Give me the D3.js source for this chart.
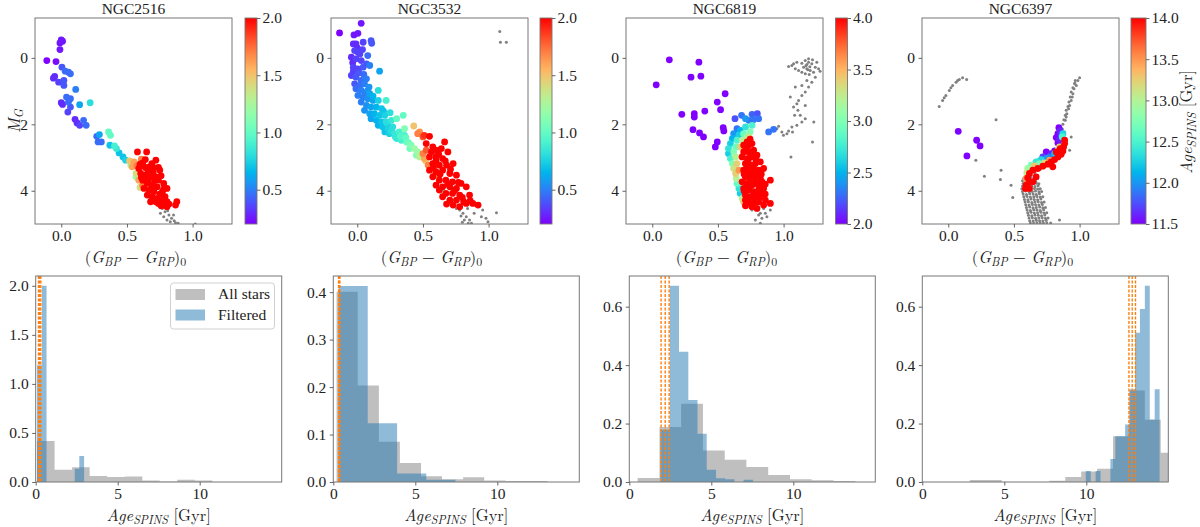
<!DOCTYPE html>
<html>
<head>
<meta charset="utf-8">
<script src="https://cdn.jsdelivr.net/npm/d3@7"></script>
<style>
body { margin: 0; background: #fff; }
svg { display: block; }
</style>
</head>
<body>
<div id="chart"></div>
<script>
// ---- data ----
const clusters = ["NGC2516", "NGC3532", "NGC6819", "NGC6397"];

// colour-bar limits (Gyr) and ticks
const ageRanges = [[0.2, 2.0], [0.2, 2.0], [2.0, 4.0], [11.5, 14.0]];
const cbTicks = [[0.5, 1.0, 1.5, 2.0], [0.5, 1.0, 1.5, 2.0], [2.0, 2.5, 3.0, 3.5, 4.0], [11.5, 12.0, 12.5, 13.0, 13.5, 14.0]];
const colorTicks = [0.0, 0.5, 1.0];
const magTicks = [0, 2, 4];

// filtered stars: [BP-RP, M_G, age]
const ngc2516Filtered = [
  [0.00,-0.54,0.25],[0.01,-0.50,0.25],[-0.01,-0.45,0.25],[-0.01,-0.25,0.25],
  [-0.11,0.08,0.2],[-0.04,0.11,0.22],[-0.05,0.56,0.3],[-0.06,0.61,0.3],
  [0.005,0.28,0.4],[0.03,0.40,0.45],[0.055,0.43,0.45],[0.07,0.48,0.45],
  [-0.02,0.73,0.35],[0.02,0.68,0.4],[0.02,0.83,0.4],[0.11,0.95,0.5],
  [0.04,1.18,0.45],[0.07,1.23,0.45],[0.055,1.33,0.45],[0.00,1.35,0.3],[0.01,1.40,0.3],
  [0.07,1.48,0.4],[0.05,1.63,0.35],[0.14,1.41,0.6],[0.22,1.35,0.8],
  [0.105,1.85,0.3],[0.12,1.96,0.3],[0.14,2.03,0.35],[0.17,1.88,0.45],[0.19,2.03,0.45],
  [0.27,2.36,0.45],[0.29,2.31,0.6],[0.28,2.53,0.45],[0.305,2.53,0.45],
  [0.36,2.23,1.0],[0.375,2.33,1.0],[0.37,2.63,0.7],[0.405,2.65,0.9],[0.42,2.73,0.85],
  [0.44,2.86,0.7],[0.47,2.98,0.7],[0.49,3.08,0.75],[0.52,3.10,1.5],[0.53,3.23,1.2],
  [0.555,3.13,1.6],[0.58,2.83,2.2],[0.54,3.28,1.6],[0.57,3.48,1.4],[0.57,3.58,1.2],
  [0.59,3.68,1.6],[0.62,3.83,1.7],[0.60,3.90,1.4],[0.61,3.05,1.7],[0.575,3.25,1.7],
  [0.62,3.16,2.3],[0.64,3.06,2.3],[0.65,2.83,2.4],[0.67,3.28,2.3],[0.69,3.18,2.5],
  [0.72,3.08,2.4],[0.74,3.30,2.3],[0.75,3.38,2.6],[0.59,3.33,2.1],[0.605,3.48,2.2],
  [0.64,3.53,2.4],[0.68,3.58,2.5],[0.72,3.58,2.4],[0.74,3.68,2.6],[0.78,3.78,2.7],
  [0.62,3.68,2.2],[0.655,3.78,2.4],[0.69,3.83,2.5],[0.73,3.88,2.6],[0.63,3.93,2.2],
  [0.67,3.98,2.4],[0.705,4.03,2.6],[0.77,4.03,2.7],[0.805,3.93,2.8],[0.655,4.13,2.3],
  [0.69,4.18,2.5],[0.73,4.23,2.6],[0.77,4.28,2.7],[0.79,4.18,2.8],[0.74,4.38,2.6],
  [0.78,4.43,2.7],[0.805,4.33,2.8],[0.72,4.33,2.5],[0.88,4.33,3.0],[0.87,4.43,3.0],
  [0.805,4.48,2.8],[0.68,4.33,2.4],[0.70,3.45,2.4],[0.66,3.40,2.3],[0.61,3.60,2.1],
  [0.75,4.10,2.6],[0.76,3.55,2.6],[0.71,3.70,2.5],[0.60,3.20,2.1],
  [0.66,3.70,2.4],[0.70,3.95,2.5],[0.76,4.45,2.7],[0.82,4.40,2.8],[0.64,3.30,2.3],
  [0.70,3.30,2.4],[0.78,3.95,2.7]
];
const ngc3532Filtered = [
  [-0.135,-0.75,0.2],[0.03,-1.04,0.25],[-0.025,-0.69,0.25],[0.005,-0.74,0.25],[-0.03,-0.42,0.3],
  [-0.01,-0.42,0.3],[0.045,-0.47,0.35],[0.105,-0.52,0.4],[0.11,-0.44,0.4],
  [-0.02,-0.22,0.35],[0.005,-0.17,0.35],[0.02,-0.12,0.35],[-0.045,-0.02,0.3],[-0.01,0.03,0.35],
  [0.03,0.08,0.35],[0.08,-0.07,0.45],[0.07,0.18,0.4],[0.00,-0.30,0.3],[0.04,-0.25,0.35],
  [-0.03,0.28,0.35],[0.005,0.33,0.35],[0.045,0.28,0.4],[0.095,0.23,0.5],[0.17,0.40,0.6],
  [-0.035,0.15,0.3],[0.015,0.45,0.4],[0.05,0.50,0.45],[-0.03,0.40,0.35],
  [-0.045,0.53,0.35],[-0.01,0.58,0.4],[0.03,0.68,0.45],[0.07,0.63,0.5],[-0.02,0.78,0.4],
  [0.02,0.83,0.45],[0.055,0.78,0.5],[0.09,0.88,0.55],[0.12,1.15,0.65],[0.06,1.05,0.5],
  [-0.01,0.93,0.45],[0.03,0.98,0.5],[0.08,0.98,0.55],[0.095,1.08,0.6],[0.16,0.98,0.8],
  [0.005,1.13,0.5],[0.045,1.18,0.5],[0.08,1.23,0.55],[0.12,1.28,0.6],[0.16,1.28,0.75],
  [0.03,1.33,0.5],[0.07,1.43,0.55],[0.105,1.48,0.6],[0.145,1.48,0.65],[0.185,1.53,0.7],[0.22,1.28,0.9],
  [0.055,1.58,0.55],[0.095,1.68,0.6],[0.13,1.68,0.65],[0.17,1.73,0.7],[0.21,1.73,0.75],
  [0.20,1.60,0.7],[0.25,1.65,0.8],
  [0.105,1.83,0.6],[0.145,1.88,0.65],[0.185,1.93,0.7],[0.22,1.93,0.8],[0.26,1.88,0.85],
  [0.30,1.83,1.0],[0.35,1.73,1.0],[0.23,2.00,0.75],[0.26,2.20,0.8],
  [0.16,2.03,0.65],[0.195,2.08,0.7],[0.235,2.13,0.75],[0.27,2.08,0.8],
  [0.21,2.23,0.7],[0.245,2.28,0.75],[0.285,2.28,0.85],[0.32,2.23,0.9],[0.36,2.33,0.9],
  [0.36,2.13,1.1],[0.43,2.05,1.5],[0.29,2.38,0.85],[0.33,2.36,0.95],[0.37,2.40,1.0],[0.39,2.55,1.05],
  [0.30,2.43,0.85],[0.335,2.48,0.9],[0.375,2.53,1.0],[0.41,2.63,1.1],[0.435,2.73,1.2],
  [0.40,2.73,1.05],[0.46,2.83,1.2],[0.45,2.93,1.1],[0.475,2.98,1.3],
  [0.46,2.28,1.7],[0.475,2.23,1.65],[0.50,2.38,1.8],[0.51,2.33,1.9],[0.55,2.36,2.2],[0.665,2.53,2.3],
  [0.525,2.78,1.8],[0.50,2.88,1.7],[0.51,3.03,1.6],[0.54,3.23,1.7],[0.59,3.53,1.7],[0.64,3.98,1.0],
  [0.52,3.10,1.5],
  [0.525,2.58,2.2],[0.575,2.68,2.3],[0.60,2.78,2.4],[0.64,2.73,2.4],[0.565,2.83,2.2],
  [0.55,2.98,2.2],[0.60,2.98,2.3],[0.65,3.03,2.4],[0.69,2.83,2.5],[0.575,3.18,2.2],
  [0.625,3.23,2.3],[0.68,3.23,2.4],[0.73,3.18,2.6],[0.55,3.38,2.1],[0.60,3.43,2.3],
  [0.65,3.38,2.4],[0.705,3.48,2.5],[0.755,3.53,2.6],[0.575,3.58,2.2],[0.625,3.68,2.3],
  [0.675,3.68,2.4],[0.725,3.73,2.5],[0.79,3.78,2.7],[0.60,3.83,2.2],[0.65,3.88,2.4],
  [0.705,3.88,2.5],[0.755,3.93,2.6],[0.83,3.88,2.8],[0.625,3.98,2.3],[0.675,4.08,2.4],
  [0.725,4.08,2.5],[0.78,4.13,2.7],[0.855,4.13,2.9],[0.65,4.18,2.3],[0.705,4.28,2.5],
  [0.755,4.28,2.6],[0.81,4.33,2.8],[0.88,4.38,3.0],[0.92,4.43,3.1],[0.73,4.43,2.6],
  [0.78,4.48,2.7],[0.83,4.38,2.8],
  [0.62,2.90,2.3],[0.67,3.10,2.4],[0.71,3.35,2.5],[0.63,3.50,2.3],[0.69,3.80,2.4],
  [0.74,4.00,2.6],[0.77,3.75,2.7],[0.80,4.20,2.8],[0.68,4.40,2.5],[0.86,4.30,2.9],
  [0.60,3.10,2.2],[0.58,3.30,2.2]
];
const ngc6819Filtered = [
  [0.13,0.06,2.0],[0.355,0.13,2.0],[0.03,0.81,2.0],[0.295,0.58,2.0],[0.37,0.55,2.0],
  [0.555,1.08,2.0],[0.495,1.33,2.0],[0.52,1.56,2.0],[0.40,1.60,2.0],[0.225,1.70,2.0],
  [0.32,1.68,2.0],[0.32,1.78,2.0],[0.54,2.10,2.0],[0.545,2.20,2.0],[0.31,2.16,2.0],
  [0.36,2.26,2.0],[0.39,2.38,2.0],[0.495,2.53,2.0],[0.48,2.68,2.0],
  [0.886,2.23,2.3],[0.924,2.15,2.3],
  [0.63,1.83,2.2],[0.68,1.73,2.3],[0.76,1.70,2.25],[0.80,1.68,2.2],[0.81,1.83,2.3],
  [0.735,1.88,2.3],[0.77,1.86,2.3],[0.71,1.83,2.4],
  [0.645,2.13,2.3],[0.62,2.28,2.4],[0.61,2.43,2.5],[0.595,2.58,2.6],[0.58,2.73,2.7],
  [0.58,2.88,2.6],[0.595,3.03,2.8],[0.61,3.18,3.0],[0.62,3.33,3.3],[0.635,3.48,3.4],
  [0.64,3.63,3.2],[0.645,3.78,2.9],[0.66,3.93,2.7],[0.67,4.08,2.6],[0.685,4.23,3.2],
  [0.695,4.33,3.4],[0.71,4.43,3.6],
  [0.67,2.18,2.5],[0.66,2.33,2.6],[0.645,2.48,2.8],[0.635,2.68,2.9],[0.62,2.83,3.0],
  [0.635,2.98,3.2],[0.645,3.18,3.4],[0.66,3.38,3.6],
  [0.71,2.08,2.7],[0.695,2.28,2.9],[0.72,2.38,3.1],[0.685,2.48,3.2],[0.67,2.68,3.4],
  [0.71,2.68,3.6],[0.76,2.03,2.8],[0.745,2.23,3.0],[0.735,2.38,3.3],
  [0.696,2.63,4.2],[0.722,2.53,4.3],[0.759,2.58,4.4],[0.696,2.83,4.3],[0.734,2.83,4.5],
  [0.772,2.78,4.5],[0.684,2.98,4.2],[0.722,3.03,4.4],[0.759,2.98,4.6],[0.797,2.93,4.7],
  [0.709,3.18,4.4],[0.747,3.23,4.5],[0.785,3.18,4.6],[0.823,3.13,4.8],[0.696,3.38,4.3],
  [0.734,3.43,4.5],[0.772,3.43,4.6],[0.81,3.38,4.7],[0.848,3.33,4.9],[0.709,3.58,4.4],
  [0.747,3.63,4.5],[0.785,3.58,4.6],[0.823,3.63,4.8],[0.684,3.73,4.2],[0.722,3.78,4.4],
  [0.759,3.83,4.5],[0.797,3.78,4.7],[0.835,3.73,4.8],[0.899,3.68,5.0],[0.696,3.93,4.3],
  [0.734,3.98,4.5],[0.772,4.03,4.6],[0.81,3.98,4.7],[0.848,3.93,4.9],[0.709,4.13,4.4],
  [0.747,4.18,4.5],[0.785,4.23,4.6],[0.823,4.18,4.8],[0.734,4.33,4.5],[0.772,4.38,4.6],
  [0.81,4.33,4.7],[0.861,4.28,4.9],[0.899,4.38,5.0],[0.848,4.43,4.9],[0.759,4.48,4.6],
  [0.797,4.53,4.7],[0.709,4.28,4.4],
  [0.715,2.75,4.3],[0.75,2.90,4.5],[0.79,3.05,4.6],[0.73,3.10,4.4],[0.77,3.30,4.5],
  [0.72,3.30,4.4],[0.83,3.50,4.8],[0.79,3.50,4.6],[0.75,3.50,4.5],[0.70,3.50,4.3],
  [0.77,3.70,4.5],[0.81,3.85,4.7],[0.74,3.90,4.4],[0.70,4.00,4.3],[0.79,4.10,4.6],
  [0.755,4.25,4.5],[0.83,4.05,4.8],[0.86,3.80,4.9],[0.86,4.10,4.9],[0.71,4.45,4.4],
  [0.73,2.65,4.3],[0.745,2.45,4.2]
];
const ngc6397Filtered = [
  [0.076,2.21,11.5],[0.216,2.48,11.5],[0.242,2.65,11.5],[0.142,2.95,11.5],
  [0.842,2.10,11.5],[0.852,2.20,11.6],[0.835,2.28,11.5],[0.86,2.33,11.7],[0.822,2.40,11.5],
  [0.847,2.46,11.6],[0.835,2.56,11.5],[0.873,2.28,12.3],[0.868,2.38,12.5],
  [0.746,2.83,11.5],[0.784,2.88,11.6],[0.81,2.80,11.5],[0.72,2.98,11.7],[0.644,3.23,11.9],
  [0.682,3.13,12.0],[0.707,3.06,12.3],[0.746,3.03,12.0],[0.669,3.13,12.4],[0.631,3.23,12.7],
  [0.605,3.33,12.9],[0.598,3.46,13.1],[0.593,3.63,13.5],[0.771,2.98,11.9],[0.81,2.88,12.2],
  [0.835,2.78,12.8],[0.847,2.68,13.2],[0.695,3.18,12.7],[0.733,3.16,13.2],[0.656,3.25,13.3],
  [0.771,3.08,13.5],
  [0.886,2.48,14.2],[0.886,2.58,14.2],[0.878,2.68,14.3],[0.873,2.80,14.2],[0.86,2.90,14.3],
  [0.835,2.98,14.1],[0.81,3.06,14.2],[0.784,3.13,14.3],[0.796,3.28,14.4],[0.758,3.20,14.2],
  [0.72,3.26,14.1],[0.682,3.33,14.2],[0.644,3.38,14.1],[0.618,3.48,14.2],[0.605,3.61,14.3],
  [0.618,3.73,14.2],[0.593,3.83,14.4],[0.588,3.93,14.3],[0.618,3.93,14.2],[0.644,3.73,14.1],
  [0.669,3.58,14.2],[0.822,2.83,14.1],[0.852,2.73,14.2]
];

// remaining stars (grey): [BP-RP, M_G]
const ngc2516Other = [
  [0.77,4.53],[0.79,4.63],[0.82,4.73],[0.84,4.83],[0.83,4.93],[0.87,4.96],[0.805,4.88],
  [0.855,4.73],[0.89,4.98],[1.02,5.0],[0.755,4.68],[0.78,4.78],[0.81,4.60],[0.86,4.90]
];
const ngc3532Other = [
  [1.085,-0.79],[1.09,-0.47],[1.135,-0.47],
  [0.78,4.58],[0.805,4.68],[0.83,4.78],[0.855,4.88],[0.87,4.98],[0.815,4.88],[0.89,4.68],
  [0.945,4.78],[0.98,4.83],[0.995,4.93],[1.06,4.66],[0.955,4.58],[0.84,4.53],[0.79,4.76],
  [0.755,4.53],[0.80,4.95],[0.845,4.98]
];
const ngc6819Other = [
  [1.076,0.18],[1.101,0.13],[1.139,0.16],[1.165,0.08],[1.177,0.20],[1.19,0.13],[1.215,0.18],
  [1.241,0.28],[1.266,0.33],[1.152,0.28],[1.177,0.33],[1.203,0.38],[1.228,0.43],[1.089,0.33],
  [1.063,0.23],[1.114,0.38],[1.139,0.43],[1.165,0.48],[1.195,0.50],[1.253,0.13],[1.278,0.40],
  [1.038,0.26],[1.19,0.03],[1.22,0.06],[1.17,0.24],[1.20,0.27],[1.185,0.36],
  [1.241,0.58],[1.215,0.73],[1.19,0.88],[1.165,1.03],[1.139,1.13],[1.114,1.28],[1.101,1.38],
  [1.076,1.48],[1.051,1.18],[1.089,0.88],[1.139,0.83],[1.177,0.68],[1.109,1.58],[1.127,1.73],
  [1.084,1.73],[1.165,1.83],[1.139,1.93],[1.101,2.03],[1.063,2.08],[1.038,2.20],[1.025,2.28],
  [0.999,2.33],[0.962,2.06],[0.987,2.23],[0.949,2.13],[1.068,2.23],[1.23,1.93],[1.22,2.53],
  [1.056,2.98],[1.165,1.43],
  [0.797,4.58],[0.823,4.68],[0.835,4.83],[0.81,4.73],[0.848,4.53],[0.861,4.68],[0.873,4.78],
  [0.785,4.88],[0.823,4.98],[0.899,4.58],[0.759,4.58]
];
const ngc6397Other = [
  [-0.069,1.46],[-0.043,1.28],[-0.018,1.13],[0.008,0.98],[0.033,0.83],[0.059,0.73],[0.084,0.65],
  [0.109,0.60],[0.14,0.65],[-0.031,1.20],[0.02,0.90],[0.071,0.68],
  [0.364,1.86],[0.21,3.08],[0.275,3.56],[0.402,3.38],[0.397,3.66],[0.478,3.83],[0.491,4.20],
  [0.847,4.88],[0.936,2.38],[0.924,2.78],
  [1.0,0.60],[0.987,0.68],[0.962,0.78],[0.949,0.90],[0.936,1.03],[0.929,1.18],[0.919,1.33],
  [0.911,1.46],[0.898,1.58],[0.891,1.73],[0.88,1.86],[0.873,2.00],[0.868,2.13],[0.957,0.93],
  [0.944,1.18],[0.924,1.43],[0.903,1.68],[0.891,1.88],[0.975,0.83],[0.967,0.68],[0.886,2.23],
  [0.86,2.28],[0.878,2.38],[0.936,1.28],[0.916,1.53],[0.898,1.78],[0.949,1.08],[0.964,0.76],
  [0.62,3.50],[0.66,3.45],[0.70,3.35],[0.75,3.25],[0.80,3.15],[0.84,3.00],[0.87,2.85],
  [0.60,3.55],[0.63,3.54],[0.66,3.56],
  [0.575,3.62],[0.60,3.63],[0.627,3.61],[0.65,3.62],[0.68,3.63],
  [0.565,3.70],[0.591,3.71],[0.614,3.69],[0.64,3.70],[0.666,3.71],
  [0.57,3.78],[0.596,3.77],[0.62,3.79],[0.645,3.78],[0.671,3.77],[0.69,3.79],
  [0.565,3.86],[0.585,3.87],[0.611,3.85],[0.635,3.86],[0.66,3.87],[0.684,3.85],
  [0.56,3.94],[0.581,3.93],[0.605,3.95],[0.629,3.94],[0.656,3.93],[0.68,3.95],[0.70,3.94],
  [0.565,4.02],[0.59,4.01],[0.616,4.03],[0.64,4.02],[0.664,4.01],[0.69,4.03],[0.711,4.02],
  [0.57,4.10],[0.595,4.11],[0.62,4.09],[0.646,4.10],[0.67,4.11],[0.694,4.09],
  [0.575,4.18],[0.60,4.17],[0.625,4.19],[0.651,4.18],[0.675,4.17],[0.70,4.19],[0.72,4.18],
  [0.58,4.26],[0.606,4.27],[0.63,4.25],[0.654,4.26],[0.68,4.27],[0.705,4.25],
  [0.585,4.34],[0.61,4.33],[0.636,4.35],[0.66,4.34],[0.685,4.33],[0.71,4.35],[0.73,4.34],
  [0.59,4.42],[0.615,4.43],[0.641,4.41],[0.665,4.42],[0.69,4.43],[0.716,4.41],
  [0.595,4.50],[0.62,4.49],[0.645,4.51],[0.67,4.50],[0.696,4.49],[0.72,4.51],[0.74,4.50],
  [0.60,4.58],[0.625,4.59],[0.651,4.57],[0.675,4.58],[0.70,4.59],[0.726,4.57],
  [0.605,4.66],[0.63,4.65],[0.655,4.67],[0.68,4.66],[0.706,4.65],[0.73,4.67],[0.75,4.66],
  [0.61,4.74],[0.636,4.75],[0.66,4.73],[0.685,4.74],[0.71,4.75],[0.735,4.73],
  [0.615,4.82],[0.64,4.81],[0.665,4.83],[0.69,4.82],[0.715,4.81],[0.74,4.83],[0.76,4.82],
  [0.62,4.90],[0.646,4.91],[0.67,4.89],[0.695,4.90],[0.72,4.91],[0.745,4.89],
  [0.625,4.97],[0.65,4.98],[0.675,4.96],[0.70,4.97],[0.725,4.98],[0.75,4.96],[0.78,4.97]
];

// age histograms (density): bin edges and heights
const allEdges = [
  [0.08,1.15,2.22,3.29,4.36,5.43,6.5,7.56,8.63,9.7,10.77],
  [0.2,1.49,2.78,4.06,5.35,6.63,7.92,9.2,10.49,11.78,13.06],
  [0.51,1.84,3.16,4.49,5.82,7.14,8.47,9.8,11.12,12.45,13.78],
  [2.9,3.87,4.84,5.81,6.78,7.75,8.72,9.69,10.66,11.63,12.6,13.57,14.54,15.51]
];
const allHeights = [
  [0.417,0.125,0.15,0.06,0.05,0.055,0.015,0.005,0.022,0.015],
  [0.401,0.2035,0.085,0.04,0.012,0.006,0.01,0.003,0.002,0.002],
  [0.014,0.188,0.268,0.108,0.076,0.051,0.024,0.009,0.006,0.003],
  [0.007,0.007,0,0,0,0.004,0.017,0.036,0.045,0.157,0.313,0.213,0.1]
];
const filteredEdges = [
  [0.08,0.37,0.66,0.95,1.23,1.52,1.81,2.09,2.38,2.66,2.95],
  [0.32,2.1,3.89,5.67,7.45],
  [1.9,2.47,3.03,3.6,4.16,4.72,5.29,5.85,6.41,6.97,7.54],
  [9.97,10.27,10.57,10.87,11.17,11.47,11.77,12.07,12.37,12.67,12.97,13.27,13.57,13.87,14.17,14.47]
];
const filteredHeights = [
  [1.19,2.0,0,0,0,0,0,0,0.136,0.264],
  [0.413,0.124,0.018,0.005],
  [0.179,0.672,0.446,0.281,0.165,0.042,0.013,0.009,0,0.008],
  [0.038,0,0.038,0,0,0.079,0.157,0.157,0.197,0.317,0.511,0.592,0.672,0.214,0.317]
];
// reference ages (dashed orange lines)
const refAges = [[0.17,0.24,0.31],[0.32,0.36,0.40],[1.94,2.19,2.43],[12.6,12.8,13.0]];
const histMax = [2.1, 0.434, 0.705, 0.705];
const histYTicks = [[0,0.5,1.0,1.5,2.0],[0,0.1,0.2,0.3,0.4],[0,0.2,0.4,0.6],[0,0.2,0.4,0.6]];
const ageTicks = [0, 5, 10];

const filtered = [ngc2516Filtered, ngc3532Filtered, ngc6819Filtered, ngc6397Filtered];
const others = [ngc2516Other, ngc3532Other, ngc6819Other, ngc6397Other];

// ---- layout ----
const W = 1200, H = 527;
const topLeft = [35, 331, 626, 922], topW = 197, topY0 = 18, topY1 = 224;
const cbLeft = [245, 540, 835.5, 1131], cbW = [12, 12, 12, 15];
const botLeft = [35.7, 333.3, 629.3, 922.3], botW = 246, botY0 = 276, botY1 = 482;
const FS = 15.5, LFS = 16.5;
const MATH = '"Latin Modern Roman", "Liberation Serif", serif';
const PLAIN = '"Liberation Serif", "Latin Modern Roman", serif';

const svg = d3.select('#chart').append('svg').attr('width', W).attr('height', H)
  .style('font-family', PLAIN);
const defs = svg.append('defs');

// matplotlib "rainbow" colormap
function rainbow(t) {
  t = Math.max(0, Math.min(1, t));
  const r = Math.min(1, Math.abs(2 * t - 0.5)), g = Math.sin(Math.PI * t), b = Math.cos(Math.PI * t / 2);
  return d3.rgb(r * 255, g * 255, b * 255).formatHex();
}

// text with italic parts and subscripts
function mathText(sel, parts, shift = 3.5) {
  sel.attr('class', 'math');
  let off = 0;
  parts.forEach(p => {
    const ts = sel.append('tspan').text(p.t);
    if (p.i) ts.attr('font-style', 'italic');
    const target = p.sub ? shift : 0;
    if (p.sub) ts.attr('font-size', '0.72em');
    if (target !== off) { ts.attr('dy', target - off); off = target; }
  });
}
const ageLabel = [{t: 'Age', i: true}, {t: 'SPINS', i: true, sub: true}, {t: ' [Gyr]'}];
const colorLabel = [{t: '('}, {t: 'G', i: true}, {t: 'BP', i: true, sub: true}, {t: ' − '},
  {t: 'G', i: true}, {t: 'RP', i: true, sub: true}, {t: ')'}, {t: '0', sub: true}];

function styleAxis(g) {
  g.attr('font-family', null);
  g.select('.domain').remove();
  g.selectAll('.tick line').attr('stroke', '#555').attr('stroke-width', 0.9);
  g.selectAll('.tick text').attr('font-size', FS).attr('fill', '#222');
}

// ---- top row: colour-magnitude diagrams ----
clusters.forEach((name, k) => {
  const x = d3.scaleLinear().domain([-0.2, 1.3]).range([topLeft[k], topLeft[k] + topW]);
  const y = d3.scaleLinear().domain([-1.2, 5]).range([topY0, topY1]);
  const c = d3.scaleLinear().domain(ageRanges[k]).range([0, 1]);

  defs.append('clipPath').attr('id', 'clipT' + k).append('rect')
    .attr('x', topLeft[k]).attr('y', topY0).attr('width', topW).attr('height', topY1 - topY0);

  const g = svg.append('g').attr('clip-path', `url(#clipT${k})`);
  g.selectAll('circle.o').data(others[k]).join('circle').attr('class', 'o')
    .attr('cx', d => x(d[0])).attr('cy', d => y(d[1])).attr('r', 1.5).attr('fill', '#808080');
  const stars = filtered[k].slice().sort((a, b) => a[2] - b[2]);
  g.selectAll('circle.f').data(stars).join('circle').attr('class', 'f')
    .attr('cx', d => x(d[0])).attr('cy', d => y(d[1])).attr('r', 3.4)
    .attr('fill', d => rainbow(c(d[2])));

  svg.append('rect').attr('x', topLeft[k]).attr('y', topY0).attr('width', topW).attr('height', topY1 - topY0)
    .attr('fill', 'none').attr('stroke', '#777').attr('stroke-width', 1);

  svg.append('g').attr('transform', `translate(0,${topY1})`)
    .call(d3.axisBottom(x).tickValues(colorTicks).tickFormat(d3.format('.1f')).tickSize(3.5).tickPadding(2.5))
    .call(styleAxis);
  svg.append('g').attr('transform', `translate(${topLeft[k]},0)`)
    .call(d3.axisLeft(y).tickValues(magTicks).tickFormat(d3.format('d')).tickSize(3.5).tickPadding(3.5))
    .call(styleAxis);

  svg.append('text').attr('x', topLeft[k] + topW / 2).attr('y', 14).attr('text-anchor', 'middle')
    .attr('font-size', FS).attr('fill', '#222').text(name);
  mathText(svg.append('text').attr('x', topLeft[k] + topW / 2 + 2).attr('y', 262.5).attr('text-anchor', 'middle')
    .attr('font-size', LFS).attr('fill', '#222'), colorLabel);

  // colour bar
  const grad = defs.append('linearGradient').attr('id', 'cb' + k)
    .attr('x1', 0).attr('y1', 1).attr('x2', 0).attr('y2', 0);
  d3.range(0, 1.0001, 0.05).forEach(t => grad.append('stop').attr('offset', t).attr('stop-color', rainbow(t)));
  svg.append('rect').attr('x', cbLeft[k]).attr('y', topY0).attr('width', cbW[k]).attr('height', topY1 - topY0)
    .attr('fill', `url(#cb${k})`).attr('stroke', '#777').attr('stroke-width', 0.9);
  const cy = d3.scaleLinear().domain(ageRanges[k]).range([topY1, topY0]);
  svg.append('g').attr('transform', `translate(${cbLeft[k] + cbW[k]},0)`)
    .call(d3.axisRight(cy).tickValues(cbTicks[k]).tickFormat(d3.format('.1f')).tickSize(3.5).tickPadding(2))
    .call(styleAxis);
});

// y label of the first CMD and colour-bar label of the last one
mathText(svg.append('text').attr('transform', 'translate(19.5,121) rotate(-90)').attr('text-anchor', 'middle')
  .attr('font-size', LFS).attr('fill', '#222'), [{t: 'M', i: true}, {t: 'G', i: true, sub: true}]);
mathText(svg.append('text').attr('transform', 'translate(1192,122) rotate(-90)').attr('text-anchor', 'middle')
  .attr('font-size', LFS).attr('fill', '#222'), ageLabel);

// ---- bottom row: age histograms ----
clusters.forEach((name, k) => {
  const x = d3.scaleLinear().domain([0, 15]).range([botLeft[k], botLeft[k] + botW]);
  const y = d3.scaleLinear().domain([0, histMax[k]]).range([botY1, botY0]);

  defs.append('clipPath').attr('id', 'clipB' + k).append('rect')
    .attr('x', botLeft[k]).attr('y', botY0).attr('width', botW).attr('height', botY1 - botY0);
  const g = svg.append('g').attr('clip-path', `url(#clipB${k})`);

  const area = d3.area().curve(d3.curveStepAfter)
    .x(d => x(d[0])).y0(y(0)).y1(d => y(d[1]));
  const steps = (edges, h) => edges.map((e, i) => [e, h[Math.min(i, h.length - 1)]]);

  g.append('path').datum(steps(allEdges[k], allHeights[k])).attr('d', area)
    .attr('fill', '#808080').attr('fill-opacity', 0.5);
  g.append('path').datum(steps(filteredEdges[k], filteredHeights[k])).attr('d', area)
    .attr('fill', '#1f77b4').attr('fill-opacity', 0.5);

  g.selectAll('line.ref').data(refAges[k]).join('line').attr('class', 'ref')
    .attr('x1', d => x(d)).attr('x2', d => x(d)).attr('y1', botY0).attr('y2', botY1)
    .attr('stroke', '#ff7f0e').attr('stroke-width', 1.4).attr('stroke-dasharray', '3,1.5');

  svg.append('rect').attr('x', botLeft[k]).attr('y', botY0).attr('width', botW).attr('height', botY1 - botY0)
    .attr('fill', 'none').attr('stroke', '#777').attr('stroke-width', 1);

  svg.append('g').attr('transform', `translate(0,${botY1})`)
    .call(d3.axisBottom(x).tickValues(ageTicks).tickFormat(d3.format('d')).tickSize(3.5).tickPadding(2))
    .call(styleAxis);
  svg.append('g').attr('transform', `translate(${botLeft[k]},0)`)
    .call(d3.axisLeft(y).tickValues(histYTicks[k]).tickFormat(d3.format('.1f')).tickSize(3.5).tickPadding(3.5))
    .call(styleAxis);

  mathText(svg.append('text').attr('x', botLeft[k] + botW / 2).attr('y', 520.5).attr('text-anchor', 'middle')
    .attr('font-size', LFS).attr('fill', '#222'), ageLabel, 3);
});

// legend in the first histogram
const leg = svg.append('g');
leg.append('rect').attr('x', 170.5).attr('y', 283).attr('width', 104).attr('height', 46).attr('rx', 3)
  .attr('fill', '#fff').attr('fill-opacity', 0.8).attr('stroke', '#ccc').attr('stroke-width', 0.9);
[['All stars', '#808080', 289], ['Filtered', '#1f77b4', 309.5]].forEach(([lab, col, yy]) => {
  leg.append('rect').attr('x', 175.5).attr('y', yy).attr('width', 29.5).attr('height', 11)
    .attr('fill', col).attr('fill-opacity', 0.5);
  leg.append('text').attr('x', 218).attr('y', yy + 10).attr('font-size', FS).attr('fill', '#222').text(lab);
});

// plain labels in a serif face, math labels in Latin Modern
svg.selectAll('text').style('font-family', PLAIN);
svg.selectAll('text.math').style('font-family', MATH);
</script>
</body>
</html>
